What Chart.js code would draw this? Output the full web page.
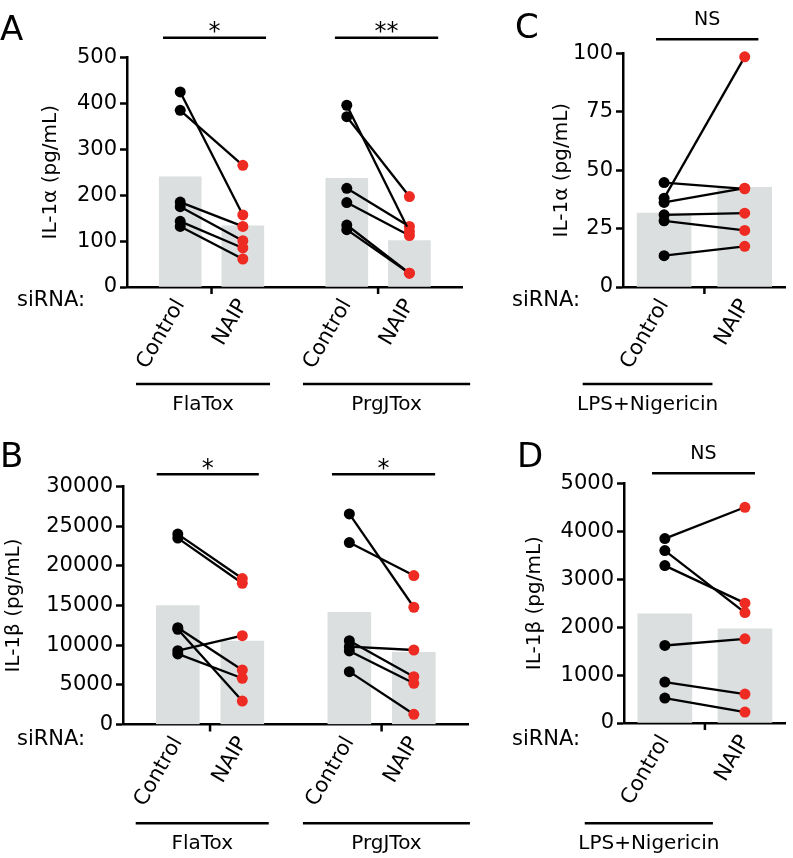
<!DOCTYPE html>
<html>
<head>
<meta charset="utf-8">
<title>IL-1 siRNA NAIP</title>
<script src="https://cdn.jsdelivr.net/npm/chart.js@4.4.1/dist/chart.umd.min.js"></script>
<style>
    body { margin: 0; background: #fff; }
    #fig { position: relative; width: 793px; height: 858px; overflow: hidden; }
    #fig canvas { position: absolute; }
</style>
</head>
<body>
<div id="fig">
    <canvas id="chartA" width="475" height="420" style="left:0;top:0;width:475px;height:420px"></canvas>
    <canvas id="chartC" width="318" height="420" style="left:475px;top:0;width:318px;height:420px"></canvas>
    <canvas id="chartB" width="475" height="438" style="left:0;top:420px;width:475px;height:438px"></canvas>
    <canvas id="chartD" width="318" height="438" style="left:475px;top:420px;width:318px;height:438px"></canvas>
</div>
<script>
// les données
const siRNA = ['Control', 'NAIP'];
const groupesAB = ['FlaTox', 'PrgJTox'];
const groupeCD = ['LPS+Nigericin'];

// A : IL-1α (pg/mL)
const il1aFlaControl = [425, 385, 185, 175, 143, 132];
const il1aFlaNaip = [157, 265, 132, 101, 85, 61];
const il1aFlaMoyenne = [240, 133];
const il1aPrgControl = [396, 371, 215, 184, 135, 125];
const il1aPrgNaip = [121, 197, 132, 112, 30, 30];
const il1aPrgMoyenne = [237, 101];
const ticksA = [0, 100, 200, 300, 400, 500];

// B : IL-1β (pg/mL)
const il1bFlaControl = [24000, 23500, 12200, 12000, 9300, 8900];
const il1bFlaNaip = [18400, 17800, 6870, 2960, 11200, 5830];
const il1bFlaMoyenne = [14980, 10530];
const il1bPrgControl = [26540, 22930, 10570, 9810, 9270, 6660];
const il1bPrgNaip = [14780, 18770, 6030, 9390, 5190, 1290];
const il1bPrgMoyenne = [14150, 9100];
const ticksB = [0, 5000, 10000, 15000, 20000, 25000, 30000];

// C : IL-1α, LPS+Nigericin
const il1aLpsControl = [44.7, 38, 36.2, 30.9, 28.3, 13.4];
const il1aLpsNaip = [42, 98.5, 42.3, 31.6, 24.2, 17.4];
const il1aLpsMoyenne = [31.6, 42.6];
const ticksC = [0, 25, 50, 75, 100];

// D : IL-1β, LPS+Nigericin
const il1bLpsControl = [3846, 3596, 3283, 1617, 854, 521];
const il1bLpsNaip = [4500, 2304, 2500, 1756, 604, 229];
const il1bLpsMoyenne = [2277, 1965];
const ticksD = [0, 1000, 2000, 3000, 4000, 5000];

// significativité
const sigA = ['*', '**'];
const sigB = ['*', '*'];
const sigC = ['NS'];
const sigD = ['NS'];

var rouge = '#ee2b22';
var gris = '#dcdfdf';
var police = "'DejaVu Sans', sans-serif";

Chart.defaults.font.family = police;
Chart.defaults.color = '#000';
Chart.defaults.animation = false;

//fonction qui construit un panneau
function makePanel(id, p) {
    var datasets = [];
    var barData = [];
    p.series.forEach(function (s, gi) {
        var xc = p.pos[gi * 2];
        var xn = p.pos[gi * 2 + 1];
        barData.push({x: xc, y: s.moyenne[0]}, {x: xn, y: s.moyenne[1]});
        s.control.forEach(function (v, i) {
            datasets.push({
                type: 'line',
                data: [{x: xc, y: v}, {x: xn, y: s.naip[i]}],
                borderColor: '#000',
                borderWidth: 2.3,
                pointRadius: 5.5,
                pointBorderWidth: 0,
                pointBackgroundColor: ['#000', rouge],
                clip: false,
                order: 0
            });
        });
    });
    datasets.push({
        type: 'bar',
        data: barData,
        backgroundColor: gris,
        barThickness: p.barW,
        order: 10
    });

    // le décor : lettre, étoiles, groupes, siRNA
    var decor = {
        id: 'decor' + id,
        afterDraw: function (chart) {
            var ctx = chart.ctx;
            var xs = chart.scales.x;
            var bas = chart.chartArea.bottom;
            ctx.save();
            ctx.fillStyle = '#000';
            ctx.strokeStyle = '#000';
            ctx.lineWidth = 2.5;

            ctx.font = '34px ' + police;
            ctx.textAlign = 'left';
            ctx.textBaseline = 'alphabetic';
            ctx.fillText(p.lettre, p.lettreXY[0], p.lettreXY[1]);

            // petites graduations entre Control et NAIP
            for (var g = 0; g < p.series.length; g++) {
                var m = xs.getPixelForValue((p.pos[g * 2] + p.pos[g * 2 + 1]) / 2);
                ctx.beginPath();
                ctx.moveTo(m, bas);
                ctx.lineTo(m, bas + 7);
                ctx.stroke();
            }

            ctx.textAlign = 'center';
            p.sig.forEach(function (s, i) {
                var x1 = xs.getPixelForValue(s[0]);
                var x2 = xs.getPixelForValue(s[1]);
                ctx.beginPath();
                ctx.moveTo(x1, p.sigY);
                ctx.lineTo(x2, p.sigY);
                ctx.stroke();
                var txt = p.sigTexte[i];
                if (txt === 'NS') {
                    ctx.font = '19px ' + police;
                    ctx.fillText(txt, (x1 + x2) / 2, p.sigY - 14);
                } else {
                    ctx.font = '24px ' + police;
                    ctx.fillText(txt, (x1 + x2) / 2, p.sigY + 1.3);
                }
            });

            ctx.font = '20px ' + police;
            p.groupes.forEach(function (gr, i) {
                var x1 = xs.getPixelForValue(gr[0]);
                var x2 = xs.getPixelForValue(gr[1]);
                ctx.beginPath();
                ctx.moveTo(x1, p.grY);
                ctx.lineTo(x2, p.grY);
                ctx.stroke();
                ctx.fillText(p.groupeTexte[i], (x1 + x2) / 2, p.grY + 26);
            });

            ctx.textAlign = 'left';
            ctx.font = '21px ' + police;
            ctx.fillText('siRNA:', p.siXY[0], p.siXY[1]);
            ctx.restore();
        }
    };

    var yt = p.yTicks;
    return new Chart(document.getElementById(id).getContext('2d'), {
        type: 'line',
        data: {datasets: datasets},
        options: {
            responsive: false,
            maintainAspectRatio: false,
            events: [],
            layout: {padding: {left: 0, top: p.top, right: p.right, bottom: 0}},
            plugins: {legend: {display: false}, tooltip: {enabled: false}},
            scales: {
                x: {
                    type: 'linear',
                    min: p.xMin,
                    max: p.xMax,
                    offset: false,
                    afterBuildTicks: function (s) {
                        s.ticks = p.pos.map(function (v) { return {value: v}; });
                    },
                    afterFit: function (s) { s.height = p.xH; },
                    ticks: {
                        autoSkip: false,
                        minRotation: 60,
                        maxRotation: 60,
                        padding: 1,
                        font: {size: 21},
                        callback: function (v, i) { return siRNA[i % 2]; }
                    },
                    grid: {offset: false, drawOnChartArea: false, drawTicks: true, tickLength: 7, tickColor: 'transparent'},
                    border: {display: true, color: '#000', width: 2.5}
                },
                y: {
                    min: yt[0],
                    max: yt[yt.length - 1],
                    afterBuildTicks: function (s) {
                        s.ticks = yt.map(function (v) { return {value: v}; });
                    },
                    afterFit: function (s) { s.width = p.yW; },
                    ticks: {
                        padding: 3,
                        font: {size: 21},
                        callback: function (v) { return String(v); }
                    },
                    grid: {drawOnChartArea: false, drawTicks: true, tickLength: 7, tickWidth: 2.5, tickColor: '#000'},
                    border: {display: true, color: '#000', width: 2.5},
                    title: {
                        display: true,
                        text: p.yTitre,
                        color: '#000',
                        font: {size: 20},
                        padding: {top: p.titrePad, bottom: 0}
                    }
                }
            }
        },
        plugins: [decor]
    });
}

var posAB = [0, 1, 2.66, 3.66];
var posCD = [0, 1];

makePanel('chartA', {
    lettre: 'A', lettreXY: [0, 40],
    series: [
        {control: il1aFlaControl, naip: il1aFlaNaip, moyenne: il1aFlaMoyenne},
        {control: il1aPrgControl, naip: il1aPrgNaip, moyenne: il1aPrgMoyenne}
    ],
    pos: posAB, xMin: -0.85, xMax: 4.5, barW: 42,
    yTicks: ticksA, yTitre: 'IL-1α (pg/mL)', titrePad: 39,
    yW: 127, xH: 133, top: 57.5, right: 13,
    sigY: 37.7, sig: [[-0.275, 1.37], [2.47, 4.12]], sigTexte: sigA,
    grY: 384, groupes: [[-0.706, 1.434], [1.96, 4.63]], groupeTexte: groupesAB,
    siXY: [17, 306]
});

makePanel('chartB', {
    lettre: 'B', lettreXY: [0, 47],
    series: [
        {control: il1bFlaControl, naip: il1bFlaNaip, moyenne: il1bFlaMoyenne},
        {control: il1bPrgControl, naip: il1bPrgNaip, moyenne: il1bPrgMoyenne}
    ],
    pos: posAB, xMin: -0.85, xMax: 4.5, barW: 43,
    yTicks: ticksB, yTitre: 'IL-1β (pg/mL)', titrePad: 2,
    yW: 123, xH: 133.5, top: 66.5, right: 7,
    sigY: 54.3, sig: [[-0.327, 1.256], [2.39, 3.99]], sigTexte: sigB,
    grY: 403.3, groupes: [[-0.653, 1.41], [1.94, 4.53]], groupeTexte: groupesAB,
    siXY: [17, 325]
});

makePanel('chartC', {
    lettre: 'C', lettreXY: [40, 38],
    series: [
        {control: il1aLpsControl, naip: il1aLpsNaip, moyenne: il1aLpsMoyenne}
    ],
    pos: posCD, xMin: -0.51, xMax: 1.5, barW: 54,
    yTicks: ticksC, yTitre: 'IL-1α (pg/mL)', titrePad: 75,
    yW: 148, xH: 133, top: 53.3, right: 8,
    sigY: 39.3, sig: [[-0.1, 1.17]], sigTexte: sigC,
    grY: 384, groupes: [[-1.01, 0.6]], groupeTexte: groupeCD,
    siXY: [37, 306]
});

makePanel('chartD', {
    lettre: 'D', lettreXY: [42, 47],
    series: [
        {control: il1bLpsControl, naip: il1bLpsNaip, moyenne: il1bLpsMoyenne}
    ],
    pos: posCD, xMin: -0.51, xMax: 1.5, barW: 54,
    yTicks: ticksD, yTitre: 'IL-1β (pg/mL)', titrePad: 48,
    yW: 149, xH: 135, top: 63.3, right: 8,
    sigY: 53.3, sig: [[-0.16, 1.125]], sigTexte: sigD,
    grY: 403.3, groupes: [[-1.0, 0.6]], groupeTexte: groupeCD,
    siXY: [37, 325]
});
</script>
</body>
</html>
